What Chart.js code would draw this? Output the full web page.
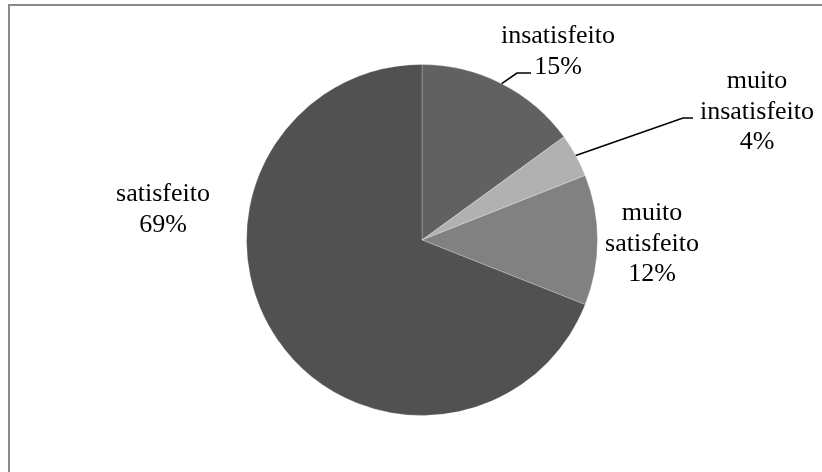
<!DOCTYPE html>
<html>
<head>
<meta charset="utf-8">
<script src="https://cdn.jsdelivr.net/npm/chart.js@4.4.0/dist/chart.umd.min.js"></script>
<style>
  html, body { margin: 0; padding: 0; background: #fff; overflow: hidden; }
  #chart { display: block; }
</style>
</head>
<body>
<canvas id="chart" width="822" height="472"></canvas>
<script>
// satisfaction survey shares (percent)
var categories = ['insatisfeito', 'muito insatisfeito', 'muito satisfeito', 'satisfeito'];
var values = [15, 4, 12, 69];
var colors = ['#616161', '#b1b1b1', '#818181', '#515151'];

// label placement, offsets from pie centre (first baseline) and leader elbows
var labelPos = [
  { x: 136, y: -197, leader: [[95, -167], [109, -167]] },
  { x: 335, y: -152, leader: [[261, -122], [271, -122]] },
  { x: 230, y: -20 },
  { x: -259, y: -39 }
];

var lineGap = 30.5;

// plot frame: only the top and left edges fall inside the canvas
var frame = {
  id: 'frame',
  beforeDraw: function (chart) {
    var ctx = chart.ctx;
    ctx.save();
    ctx.strokeStyle = '#8a8a8a';
    ctx.lineWidth = 2;
    ctx.beginPath();
    ctx.moveTo(9, chart.height + 2);
    ctx.lineTo(9, 5);
    ctx.lineTo(chart.width + 2, 5);
    ctx.stroke();
    ctx.restore();
  }
};

var pieLabels = {
  id: 'pieLabels',
  afterDatasetsDraw: function (chart) {
    var ctx = chart.ctx;
    var meta = chart.getDatasetMeta(0);

    ctx.save();
    ctx.font = '26px "Liberation Serif", "Times New Roman", serif';
    ctx.fillStyle = '#000';
    ctx.textAlign = 'center';
    ctx.textBaseline = 'alphabetic';

    meta.data.forEach(function (arc, i) {
      var p = labelPos[i];
      var cx = arc.x, cy = arc.y;

      if (p.leader) {
        var mid = (arc.startAngle + arc.endAngle) / 2;
        ctx.beginPath();
        ctx.moveTo(cx + Math.cos(mid) * arc.outerRadius, cy + Math.sin(mid) * arc.outerRadius);
        p.leader.forEach(function (pt) { ctx.lineTo(cx + pt[0], cy + pt[1]); });
        ctx.strokeStyle = '#000';
        ctx.lineWidth = 1.6;
        ctx.stroke();
      }

      var lines = categories[i].split(' ');
      lines.push(values[i] + '%');
      lines.forEach(function (t, k) {
        ctx.fillText(t, cx + p.x, cy + p.y + k * lineGap);
      });
    });
    ctx.restore();
  }
};

new Chart(document.getElementById('chart'), {
  type: 'pie',
  data: {
    labels: categories,
    datasets: [{
      data: values,
      backgroundColor: colors,
      borderColor: 'rgba(255,255,255,0.25)',
      borderWidth: 1
    }]
  },
  options: {
    responsive: false,
    animation: false,
    layout: { padding: { top: 64, bottom: 56, left: 22, right: 0 } },
    plugins: {
      legend: { display: false },
      tooltip: { enabled: false }
    }
  },
  plugins: [frame, pieLabels]
});
</script>
</body>
</html>
